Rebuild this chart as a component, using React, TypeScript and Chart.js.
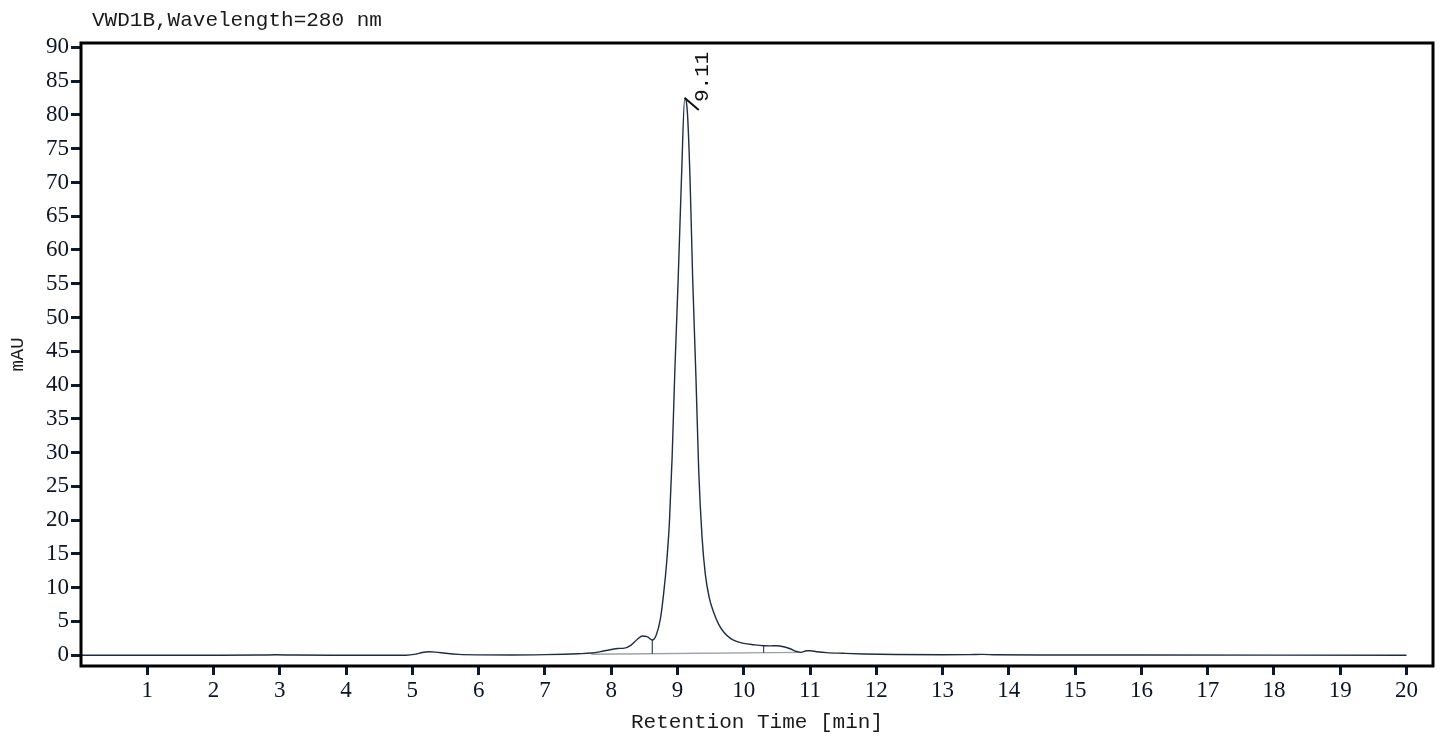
import React, { useEffect, useRef } from "react";
import { Chart, registerables } from "chart.js";

Chart.register(...registerables);

const chartTitle = "VWD1B,Wavelength=280 nm";
const xAxisTitle = "Retention Time [min]";
const yAxisTitle = "mAU";

const xTickValues = [1, 2, 3, 4, 5, 6, 7, 8, 9, 10, 11, 12, 13, 14, 15, 16, 17, 18, 19, 20];
const yTickValues = [0, 5, 10, 15, 20, 25, 30, 35, 40, 45, 50, 55, 60, 65, 70, 75, 80, 85, 90];

const retentionTimes = [
  0, 1, 2, 2.7, 2.95, 3.2, 4, 4.9, 5.05, 5.15, 5.25, 5.35, 5.5, 5.7, 6.0, 6.5, 7.0, 7.3, 7.5,
  7.7, 7.85, 8.0, 8.1, 8.2, 8.3, 8.4, 8.47, 8.55, 8.62, 8.68, 8.74, 8.79, 8.84, 8.88, 8.92,
  8.96, 9.01, 9.06, 9.11, 9.15, 9.19, 9.23, 9.28, 9.32, 9.37, 9.42, 9.48, 9.54, 9.62, 9.7,
  9.8, 9.9, 10.0, 10.15, 10.3, 10.4, 10.5, 10.6, 10.7, 10.8, 10.86, 10.95, 11.0, 11.1, 11.25,
  11.5, 11.8, 12.3, 13.0, 13.4, 13.6, 13.8, 14.5, 16, 18, 20,
];
const signalMAU = [
  0, 0, 0, 0.02, 0.06, 0.02, 0, 0, 0.15, 0.4, 0.5, 0.45, 0.28, 0.12, 0.05, 0.03, 0.08, 0.15, 0.22,
  0.32, 0.55, 0.85, 1.0, 1.05, 1.5, 2.4, 2.85, 2.7, 2.25, 3.0, 5.25, 9.0, 14.1, 20.0, 29.5,
  42.0, 55.5, 70.5, 82.5, 80.3, 70.4, 55.6, 40.8, 27.5, 17.6, 12.0, 8.5, 6.5, 4.6, 3.4,
  2.5, 2.0, 1.75, 1.55, 1.4, 1.38, 1.4, 1.25, 0.95, 0.55, 0.42, 0.65, 0.65, 0.52, 0.38,
  0.28, 0.18, 0.1, 0.06, 0.08, 0.12, 0.06, 0.03, 0.02, 0.01, 0,
];

const integrationBaseTimes = [7.7, 10.86];
const integrationBaseValues = [0.15, 0.42];

const dropTimes = [8.62, 10.3];
const dropBottoms = [0.23, 0.37];
const dropTops = [2.25, 1.4];

const peakTime = 9.11;
const peakValue = 82.5;
const peakLabel = "9.11";

const curveColor = "#1f2d43";
const baseColor = "#9aa1a9";
const textColor = "#0c1526";
const monoFont = '"Liberation Mono", "DejaVu Sans Mono", monospace';
const serifFont = '"Liberation Serif", "DejaVu Serif", serif';

const overlayPlugin = {
  id: "overlay",
  afterDatasetsDraw(chart: any) {
    const { ctx, chartArea: a, scales } = chart;
    const x = scales.x;
    const y = scales.y;
    ctx.save();
    // frame
    ctx.strokeStyle = "#000";
    ctx.lineWidth = 3;
    ctx.strokeRect(a.left, a.top, a.right - a.left, a.bottom - a.top);
    // peak marker
    const px = x.getPixelForValue(peakTime);
    const py = y.getPixelForValue(peakValue);
    ctx.strokeStyle = "#111";
    ctx.lineWidth = 2;
    ctx.beginPath();
    ctx.moveTo(px, py);
    ctx.lineTo(px + 14, py + 12);
    ctx.stroke();
    // title
    ctx.font = `21px ${monoFont}`;
    ctx.fillStyle = "#1a1a1a";
    ctx.textAlign = "left";
    ctx.textBaseline = "alphabetic";
    ctx.fillText(chartTitle, a.left + 11, a.top - 17);
    // peak label
    ctx.translate(px + 23, py + 4);
    ctx.rotate(-Math.PI / 2);
    ctx.fillStyle = "#111";
    ctx.fillText(peakLabel, 0, 0);
    ctx.restore();
  },
};

export default function App() {
  const canvasRef = useRef<HTMLCanvasElement | null>(null);

  useEffect(() => {
    if (!canvasRef.current) return;
    const curve = retentionTimes.map((t, i) => ({ x: t, y: signalMAU[i] }));
    const base = integrationBaseTimes.map((t, i) => ({ x: t, y: integrationBaseValues[i] }));
    const drops = dropTimes.map((t, i) => ({
      type: "line" as const,
      data: [
        { x: t, y: dropBottoms[i] },
        { x: t, y: dropTops[i] },
      ],
      borderColor: "#3a4556",
      borderWidth: 1.2,
      pointRadius: 0,
      tension: 0,
      order: 1,
    }));

    const chart = new Chart(canvasRef.current, {
      type: "line",
      data: {
        datasets: [
          {
            data: base,
            borderColor: baseColor,
            borderWidth: 1.4,
            pointRadius: 0,
            tension: 0,
            order: 3,
          },
          ...drops,
          {
            data: curve,
            borderColor: curveColor,
            borderWidth: 1.4,
            pointRadius: 0,
            cubicInterpolationMode: "monotone",
            order: 0,
          },
        ] as any,
      },
      plugins: [overlayPlugin],
      options: {
        animation: false,
        responsive: false,
        devicePixelRatio: 1,
        layout: { padding: { top: 43, right: 12, bottom: 0, left: 0 } },
        plugins: {
          legend: { display: false },
          title: { display: false },
          tooltip: { enabled: false },
        },
        scales: {
          x: {
            type: "linear",
            min: 0,
            max: 20.4,
            afterBuildTicks: (scale: any) => {
              scale.ticks = xTickValues.map((v) => ({ value: v }));
            },
            afterFit: (scale: any) => {
              scale.height = 75;
            },
            border: { display: false },
            grid: {
              display: true,
              drawOnChartArea: false,
              drawTicks: true,
              tickLength: 9,
              tickWidth: 3,
              tickColor: "#0b1a2e",
            },
            ticks: {
              autoSkip: false,
              maxRotation: 0,
              padding: 2,
              color: textColor,
              font: { family: serifFont, size: 23 },
              callback: (v: any) => String(v),
            },
            title: {
              display: true,
              text: xAxisTitle,
              color: "#1a1a1a",
              font: { family: monoFont, size: 21 },
              padding: { top: 0, bottom: 6 },
            },
          },
          y: {
            type: "linear",
            min: -1.6,
            max: 90.65,
            afterBuildTicks: (scale: any) => {
              scale.ticks = yTickValues.map((v) => ({ value: v }));
            },
            afterFit: (scale: any) => {
              scale.width = 81;
            },
            border: { display: false },
            grid: {
              display: true,
              drawOnChartArea: false,
              drawTicks: true,
              tickLength: 10,
              tickWidth: 3,
              tickColor: "#0b1a2e",
            },
            ticks: {
              autoSkip: false,
              padding: 2,
              color: textColor,
              font: { family: serifFont, size: 23 },
              callback: (v: any) => String(v),
            },
            title: {
              display: true,
              text: yAxisTitle,
              color: "#1a1a1a",
              font: { family: monoFont, size: 19 },
              padding: { top: 7, bottom: 0 },
            },
          },
        },
      } as any,
    });
    return () => chart.destroy();
  }, []);

  return (
    <div style={{ position: "fixed", left: 0, top: 0, width: 1445, height: 741, background: "#fff" }}>
      <canvas ref={canvasRef} width={1445} height={741} style={{ width: 1445, height: 741 }} />
    </div>
  );
}
